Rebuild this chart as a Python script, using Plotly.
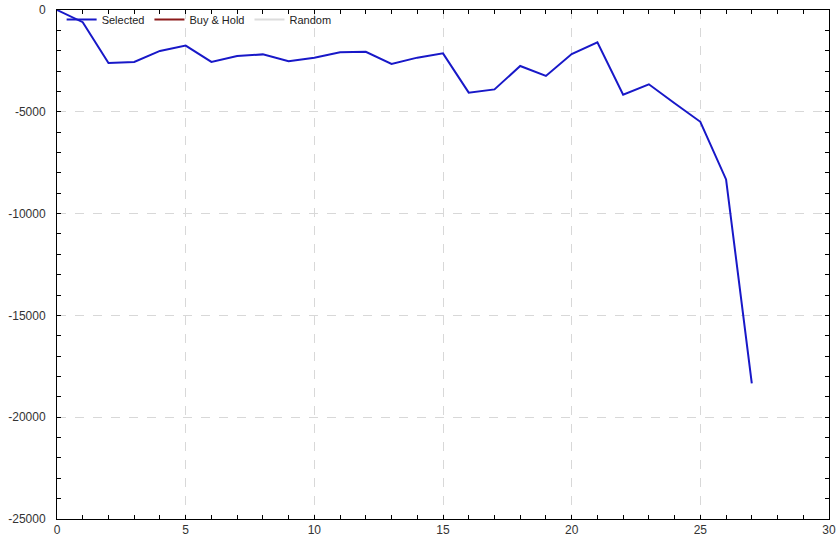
import plotly.graph_objects as go

trades = list(range(28))
selected = [0, -600, -2600, -2550, -2010, -1750, -2550, -2260, -2180, -2520,
            -2340, -2080, -2050, -2650, -2340, -2130, -4060, -3900, -2750, -3240,
            -2160, -1590, -4160, -3650, -4580, -5490, -8320, -18340]
buy_hold = [None]
random_series = [None]

x_ticks = [0, 5, 10, 15, 20, 25, 30]
y_ticks = [0, -5000, -10000, -15000, -20000, -25000]

fig = go.Figure()
fig.add_trace(go.Scatter(x=trades, y=selected, mode="lines", name="Selected",
                         line=dict(color="#1818c8", width=2)))
fig.add_trace(go.Scatter(x=buy_hold, y=buy_hold, mode="lines", name="Buy & Hold",
                         line=dict(color="#8b1a1a", width=2)))
fig.add_trace(go.Scatter(x=random_series, y=random_series, mode="lines", name="Random",
                         line=dict(color="#dcdcdc", width=2)))

font = dict(family="Liberation Sans, Arial, sans-serif", size=12, color="#333333")

fig.update_layout(
    width=839, height=542,
    margin=dict(l=57, r=10, t=10, b=23, autoexpand=False),
    paper_bgcolor="white", plot_bgcolor="white",
    font=font,
    showlegend=True,
    legend=dict(orientation="h", x=0.006, y=1.01, xanchor="left", yanchor="top",
                bgcolor="rgba(0,0,0,0)", borderwidth=0, font=dict(size=11, color="#222222"),
                itemwidth=30, tracegroupgap=0),
    xaxis=dict(range=[0, 30], tickvals=x_ticks, ticktext=[str(v) for v in x_ticks],
               automargin=False,
               showgrid=True, gridcolor="#d8d8d8", griddash="dash", gridwidth=1,
               showline=True, linecolor="#000000", linewidth=1, mirror="allticks",
               ticks="inside", ticklen=4, tickcolor="#000000",
               minor=dict(dtick=1, ticks="inside", ticklen=4, tickcolor="#000000", showgrid=False),
               zeroline=False),
    yaxis=dict(range=[-25000, 0], tickvals=y_ticks, ticktext=[str(v) for v in y_ticks],
               automargin=False, ticklabelstandoff=8,
               showgrid=True, gridcolor="#d8d8d8", griddash="dash", gridwidth=1,
               showline=True, linecolor="#000000", linewidth=1, mirror="allticks",
               ticks="inside", ticklen=4, tickcolor="#000000",
               minor=dict(dtick=1000, ticks="inside", ticklen=4, tickcolor="#000000", showgrid=False),
               zeroline=False),
    xaxis2=dict(overlaying="x", side="bottom", range=[0, 30], tickvals=x_ticks,
                automargin=False,
                showticklabels=False, showgrid=False, zeroline=False, showline=False,
                ticks="outside", ticklen=3, tickcolor="#000000",
                minor=dict(dtick=1, ticks="outside", ticklen=3, tickcolor="#000000")),
    yaxis2=dict(overlaying="y", side="left", range=[-25000, 0], tickvals=y_ticks,
                automargin=False,
                showticklabels=False, showgrid=False, zeroline=False, showline=False,
                ticks="outside", ticklen=3, tickcolor="#000000",
                minor=dict(dtick=1000, ticks="outside", ticklen=3, tickcolor="#000000")),
)

fig.write_html("out.html", config={"displayModeBar": False},
               post_script="document.body.style.margin='0';")
